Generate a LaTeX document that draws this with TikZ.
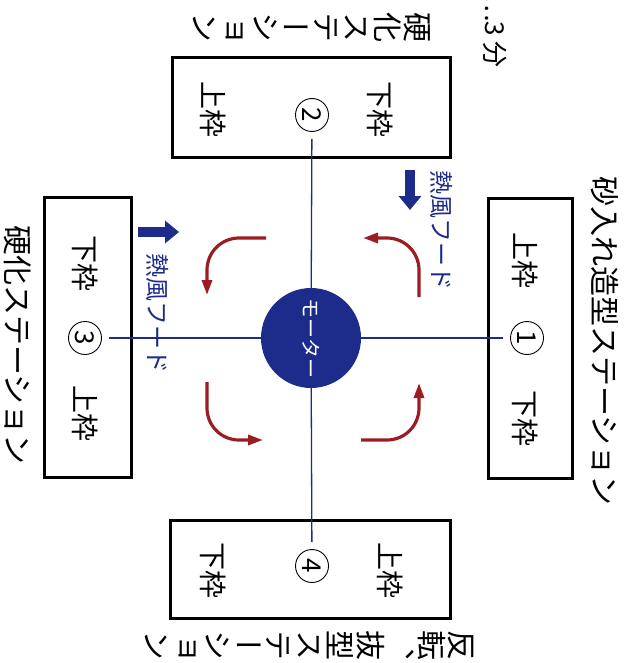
\documentclass[tikz,border=0pt]{standalone}
\usepackage{fontspec}
\setmainfont{Noto Sans CJK JP}
\newfontfamily\tatefont[RawFeature=+vert]{Noto Sans CJK JP}
\usetikzlibrary{arrows.meta}
\definecolor{motorblue}{RGB}{29,44,138}
\definecolor{flowred}{RGB}{155,28,35}

\begin{document}
\begin{tikzpicture}[
		x=1pt, y=1pt, rotate=-90, transform shape,
		every node/.style={inner sep=0pt, font=\fontsize{28}{30}\selectfont},
		station/.style={draw, line width=3pt, rectangle},
		num/.style={draw, circle, line width=0.9pt, minimum size=33pt, font=\fontsize{26}{28}\selectfont},
		motor/.style={circle, fill=motorblue, minimum size=100pt, text=white, font=\fontsize{20}{22}\selectfont},
		wire/.style={motorblue, line width=1.3pt, shorten <=7pt},
		flow/.style={flowred, line width=3.2pt, rounded corners=32pt, -{Triangle[length=15pt, width=10pt]}},
		hood/.style={motorblue, line width=10pt, -{Triangle[length=14pt, width=22pt]}},
		hoodtext/.style={text=motorblue, font=\fontsize{24}{26}\selectfont},
		label/.style={font=\fontsize{30}{32}\selectfont},
		tate/.style={align=center, font=\tatefont\fontsize{30}{30.5}\selectfont}
		]
		\useasboundingbox (0,0) rectangle (663,627);
		% stations
		\node[station, minimum width=280pt, minimum height=84pt] at (338,530) (st1) {};
		\node[station, minimum width=100pt, minimum height=278pt] at (108,311) (st2) {};
		\node[station, minimum width=280pt, minimum height=87pt] at (337,88) (st3) {};
		\node[station, minimum width=98pt, minimum height=280pt] at (569,310) (st4) {};
		
		\node[num] at (338,527) (n1) {1};
		\node[num] at (115,312) (n2) {2};
		\node[num] at (338,85) (n3) {3};
		\node[num] at (566,312) (n4) {4};
		
		\node at (260,525) (u1) {上枠};
		\node at (418,525) (d1) {下枠};
		\node at (110,213) (u2) {上枠};
		\node at (110,380) (d2) {下枠};
		\node at (263,85) (d3) {下枠};
		\node at (413,85) (u3) {上枠};
		\node at (570,213) (d4) {下枠};
		\node at (570,390) (u4) {上枠};
		
		% station names
		\node[label] at (341,605) (l1) {砂入れ造型ステーション};
		\node[tate] at (28,312) (l2) {硬\\化\\ス\\テ\\ー\\シ\\ョ\\ン};
		\node[label] at (345,18) (l3) {硬化ステーション};
		\node[tate] at (645,310) (l4) {反\\転\\、\\抜\\型\\ス\\テ\\ー\\シ\\ョ\\ン};
		\node[anchor=east, font=\fontsize{26}{30}\selectfont] at (68,495) (time) {…3 分};
		
		% motor and arms
		\node[motor] at (338,311) (motor) {モーター};
		\draw[wire] (n1) -- (motor);
		\draw[wire] (n2) -- (motor);
		\draw[wire] (n3) -- (motor);
		\draw[wire] (n4) -- (motor);
		
		% hot air hoods
		\coordinate (h1s) at (170,410);
		\coordinate (h1e) at (210,410);
		\coordinate (h3s) at (232,138);
		\coordinate (h3e) at (232,179);
		\draw[hood] (h1s) -- (h1e);
		\draw[hood] (h3s) -- (h3e);
		\node[hoodtext] at (231,442) (t1) {熱風フード};
		\node[hoodtext] at (313,158) (t3) {熱風フード};
		
		% turning direction
		\coordinate (a1s) at (238,266);
		\coordinate (a1e) at (295,207);
		\coordinate (a2s) at (382,207);
		\coordinate (a2e) at (440,263);
		\coordinate (a3s) at (440,361);
		\coordinate (a3e) at (383,419);
		\coordinate (a4s) at (297,419);
		\coordinate (a4e) at (238,363);
		\draw[flow] (a1s) |- (a1e);
		\draw[flow] (a2s) -| (a2e);
		\draw[flow] (a3s) |- (a3e);
		\draw[flow] (a4s) -| (a4e);
	\end{tikzpicture}
\end{document}
